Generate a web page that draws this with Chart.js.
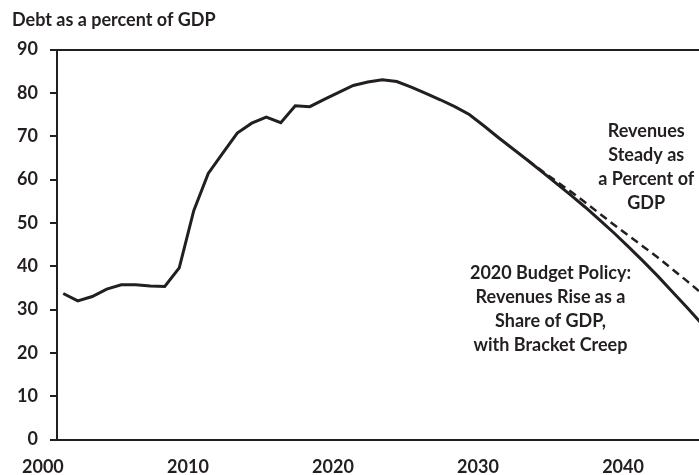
<!DOCTYPE html>
<html>
<head>
<meta charset="utf-8">
<script src="https://cdn.jsdelivr.net/npm/chart.js@4/dist/chart.umd.min.js"></script>
<style>
  html, body { margin: 0; padding: 0; background: #fff; }
  #wrap { width: 699px; height: 475px; position: relative; }
</style>
</head>
<body>
<div id="wrap"><canvas id="c" width="699" height="475"></canvas></div>
<script>
const years = [2001,2002,2003,2004,2005,2006,2007,2008,2009,2010,
               2011,2012,2013,2014,2015,2016,2017,2018,2019,2020,
               2021,2022,2023,2024,2025,2026,2027,2028,2029,2030,
               2031,2032,2033,2034,2035,2036,2037,2038,2039,2040,
               2041,2042,2043,2044,2045];
const budgetPolicy = [33.7,32.0,33.0,34.7,35.7,35.7,35.4,35.3,39.6,52.8,
                      61.4,66.1,70.7,73.0,74.4,73.1,77.0,76.8,78.5,80.1,
                      81.7,82.5,83.0,82.6,81.3,79.9,78.4,76.8,75.0,72.4,
                      69.7,67.1,64.5,61.8,59.1,56.4,53.6,50.6,47.6,44.4,
                      41.1,37.7,34.1,30.5,26.8];
const revenuesSteady = [null,null,null,null,null,null,null,null,null,null,
                        null,null,null,null,null,null,null,null,null,null,
                        null,null,null,null,null,null,null,null,null,null,
                        null,null,64.5,62.0,59.6,57.2,54.7,52.1,49.5,47.0,
                        44.5,42.0,39.3,36.6,33.8];
const xTickLabels = ['2000','2010','2020','2030','2040'];
const yTicks = [0,10,20,30,40,50,60,70,80,90];
const titleText = 'Debt as a percent of GDP';
const noteSteady = ['Revenues','Steady as','a Percent of','GDP'];
const notePolicy = ['2020 Budget Policy:','Revenues Rise as a','Share of GDP,','with Bracket Creep'];

const INK = '#231f20';
const FONT = 'Lato, "Open Sans", sans-serif';
const FS = 18;

const toPoints = (vals) => years.map((y, i) => ({x: y, y: vals[i]}));

const notesPlugin = {
  id: 'notes',
  afterDatasetsDraw(chart) {
    const {ctx, scales: {x, y}} = chart;
    ctx.save();
    ctx.fillStyle = INK;
    ctx.font = 'bold ' + FS + 'px ' + FONT;
    ctx.textAlign = 'center';
    ctx.textBaseline = 'middle';
    const drawBlock = (lines, xv, yv) => {
      const px = x.getPixelForValue(xv);
      const py = y.getPixelForValue(yv);
      lines.forEach((t, i) => ctx.fillText(t, px, py + i * 24));
    };
    drawBlock(noteSteady, 2041.2, 71.2);
    drawBlock(notePolicy, 2034.6, 38.4);
    ctx.restore();
  }
};

new Chart(document.getElementById('c'), {
  type: 'line',
  data: {
    datasets: [
      {
        label: '2020 Budget Policy',
        data: toPoints(budgetPolicy),
        borderColor: INK,
        borderWidth: 3,
        pointRadius: 0,
        tension: 0,
        fill: false
      },
      {
        label: 'Revenues Steady',
        data: toPoints(revenuesSteady),
        borderColor: INK,
        borderWidth: 2.5,
        borderDash: [8, 5],
        pointRadius: 0,
        tension: 0,
        fill: false,
        spanGaps: false
      }
    ]
  },
  options: {
    responsive: false,
    animation: false,
    devicePixelRatio: 1,
    layout: { padding: { left: 12, right: 0, top: 0, bottom: 0 } },
    plugins: {
      legend: { display: false },
      tooltip: { enabled: false },
      title: {
        display: true,
        text: titleText,
        align: 'start',
        color: INK,
        font: { family: FONT, size: 18, weight: 'bold', lineHeight: 1.2 },
        padding: { top: 9, bottom: 18.9 }
      }
    },
    scales: {
      x: {
        type: 'linear',
        min: 2000.57,
        max: 2044.84,
        afterBuildTicks(scale) {
          scale.ticks = xTickLabels.map(l => ({ value: Number(l) - 0.4, label: l }));
        },
        afterFit(scale) {
          scale.paddingLeft = 0;
          scale.paddingRight = 0;
          scale.height = 35.5;
        },
        grid: { display: false, drawTicks: false },
        border: { display: true, color: INK, width: 2 },
        ticks: {
          color: INK,
          padding: 17,
          maxRotation: 0,
          autoSkip: false,
          font: { family: FONT, size: FS, weight: 'bold' },
          callback: (v, i) => xTickLabels[i]
        }
      },
      y: {
        min: 0,
        max: 90,
        afterBuildTicks(scale) {
          scale.ticks = yTicks.map(v => ({ value: v }));
        },
        afterFit(scale) { scale.width = 45; },
        grid: {
          display: true,
          color: (c) => (c.tick && c.tick.value === 90 ? INK : 'rgba(0,0,0,0)'),
          lineWidth: 2,
          tickColor: INK,
          tickWidth: 2,
          tickLength: 7,
          drawTicks: true
        },
        border: { display: true, color: INK, width: 2 },
        ticks: {
          color: INK,
          padding: 12,
          font: { family: FONT, size: FS, weight: 'bold' }
        }
      }
    }
  },
  plugins: [notesPlugin]
});
</script>
</body>
</html>
